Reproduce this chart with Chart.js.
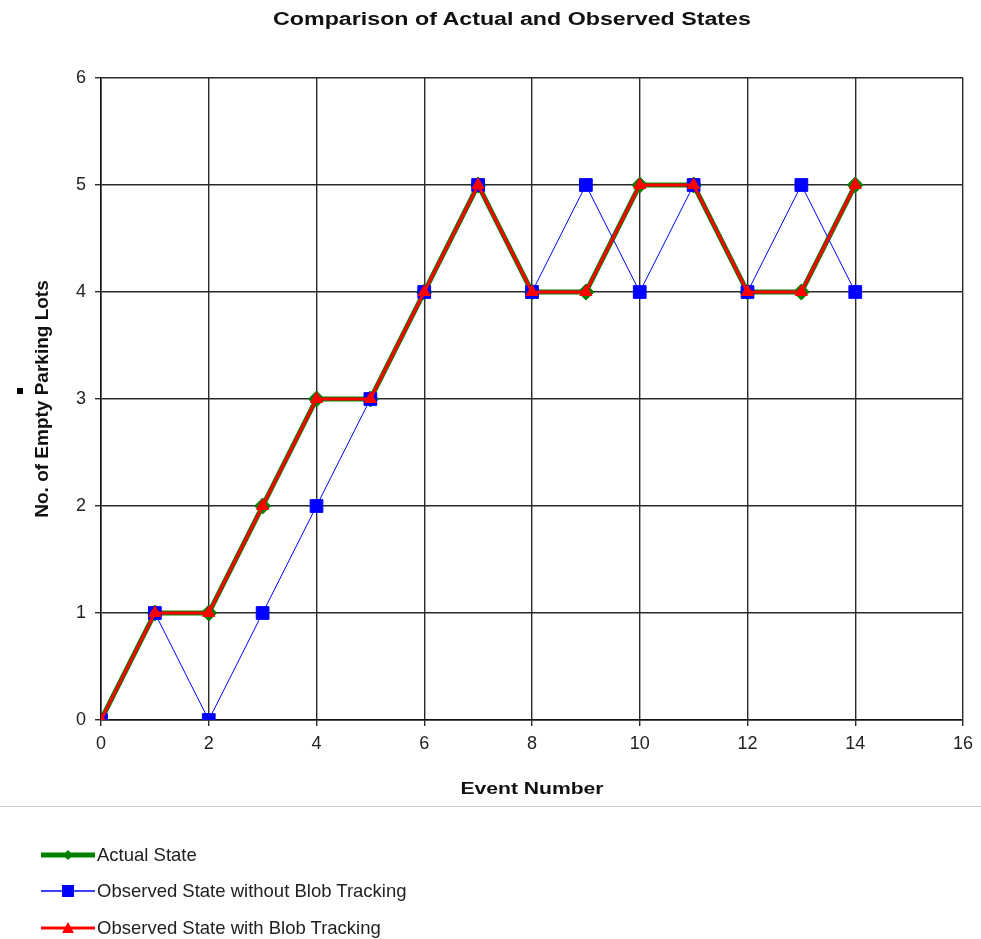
<!DOCTYPE html>
<html>
<head>
<meta charset="utf-8">
<script src="https://cdn.jsdelivr.net/npm/chart.js@4.4.1/dist/chart.umd.min.js"></script>
<style>
body { margin: 0; background: #fff; font-family: "Liberation Sans", Arial, sans-serif; }
#wrap { position: relative; width: 981px; height: 939px; }
#title { position: absolute; top: 9px; left: 0; width: 1024px; text-align: center; font-weight: bold; font-size: 18px; color: #111; transform: scaleX(1.29); }
#xtitle { position: absolute; top: 780px; left: 332px; width: 400px; text-align: center; font-weight: bold; font-size: 16px; color: #111; transform: scaleX(1.32); }
.leg { position: absolute; left: 41px; font-size: 18.5px; color: #222; display: flex; align-items: center; height: 22px; }
.leg svg { margin-right: 1px; }
</style>
</head>
<body>
<div id="wrap">
  <canvas id="myChart" width="981" height="939"></canvas>
  <div id="title">Comparison of Actual and Observed States</div>
  <div id="xtitle">Event Number</div>
  <div id="legend"></div>
</div>
<script>
//==============DATA===============
const events = [0, 1, 2, 3, 4, 5, 6, 7, 8, 9, 10, 11, 12, 13, 14];
const actualState = [0, 1, 1, 2, 3, 3, 4, 5, 4, 4, 5, 5, 4, 4, 5];
const withoutBlob = [0, 1, 0, 1, 2, 3, 4, 5, 4, 5, 4, 5, 4, 5, 4];
const withBlob = [0, 1, 1, 2, 3, 3, 4, 5, 4, 4, 5, 5, 4, 4, 5];
const xTicks = [0, 2, 4, 6, 8, 10, 12, 14, 16];
const yTicks = [0, 1, 2, 3, 4, 5, 6];

const seriesNames = ['Actual State', 'Observed State without Blob Tracking', 'Observed State with Blob Tracking'];

function toPoints(vals) {
	return vals.map((v, i) => ({x: events[i], y: v}));
}

//==============CHART===============
// little extra bits the original picture has (separator line, stray mark)
const extras = {
	id: 'extras',
	afterDraw(chart) {
		const ctx = chart.ctx;
		ctx.save();
		ctx.strokeStyle = '#c8c8c8';
		ctx.lineWidth = 1;
		ctx.beginPath();
		ctx.moveTo(0, 806.5);
		ctx.lineTo(981, 806.5);
		ctx.stroke();
		ctx.fillStyle = '#000';
		ctx.fillRect(17, 388, 6, 6);
		ctx.restore();
	}
};

const myChart = document.getElementById('myChart');

let lineChart = new Chart(myChart, {
	type: 'line',
	data: {
		datasets: [{
			label: seriesNames[0],
			data: toPoints(actualState),
			borderColor: '#008000',
			backgroundColor: '#008000',
			borderWidth: 5,
			pointStyle: 'rectRot',
			pointRadius: 8,
			pointBorderWidth: 1,
			order: 3
		}, {
			label: seriesNames[1],
			data: toPoints(withoutBlob),
			borderColor: '#0000ff',
			backgroundColor: '#0000ff',
			borderWidth: 1,
			pointStyle: 'rect',
			pointRadius: 9,
			pointBorderWidth: 1,
			order: 2
		}, {
			label: seriesNames[2],
			data: toPoints(withBlob),
			borderColor: '#ff0000',
			backgroundColor: '#ff0000',
			borderWidth: 3,
			pointStyle: 'triangle',
			pointRadius: 7,
			pointBorderWidth: 1,
			order: 1
		}]
	},
	options: {
		responsive: false,
		animation: false,
		layout: {padding: {left: 0, top: 78, right: 18, bottom: 139}},
		plugins: {
			legend: {display: false},
			tooltip: {enabled: false}
		},
		elements: {line: {tension: 0}},
		scales: {
			x: {
				type: 'linear',
				min: 0,
				max: 16,
				afterFit: s => { s.height = 80; },
				afterBuildTicks: s => { s.ticks = xTicks.map(v => ({value: v})); },
				grid: {color: '#2a2a2a', lineWidth: 1.4, tickLength: 6},
				border: {color: '#111', width: 1.5},
				ticks: {color: '#222', font: {size: 18, family: 'Liberation Sans'}, padding: 7, maxRotation: 0}
			},
			y: {
				min: 0,
				max: 6,
				afterFit: s => { s.width = 101; },
				afterBuildTicks: s => { s.ticks = yTicks.map(v => ({value: v})); },
				grid: {color: '#2a2a2a', lineWidth: 1.4, tickLength: 6},
				border: {color: '#111', width: 1.5},
				ticks: {color: '#222', font: {size: 18, family: 'Liberation Sans'}, padding: 9},
				title: {display: true, text: 'No. of Empty Parking Lots', color: '#111', font: {size: 19, weight: 'bold', family: 'Liberation Sans'}, padding: {top: 31, bottom: 0}}
			}
		}
	},
	plugins: [extras]
});

//==============LEGEND===============
const legendElem = document.getElementById('legend');
const legendTops = [844, 880, 917];
const markers = [
	'<polygon points="27,4 32,9 27,14 22,9" fill="#008000"/>',
	'<rect x="21" y="3" width="12" height="12" fill="#0000ff"/>',
	'<polygon points="27,3 33,14 21,14" fill="#ff0000"/>'
];
const legendWidths = [5, 1.5, 3];
lineChart.data.datasets.forEach((ds, i) => {
	const item = document.createElement('div');
	item.className = 'leg';
	item.style.top = legendTops[i] + 'px';
	item.innerHTML = '<svg width="55" height="18"><line x1="0" y1="9" x2="54" y2="9" stroke="' + ds.borderColor +
		'" stroke-width="' + legendWidths[i] + '"/>' + markers[i] + '</svg><span>' + ds.label + '</span>';
	legendElem.appendChild(item);
});
</script>
</body>
</html>
